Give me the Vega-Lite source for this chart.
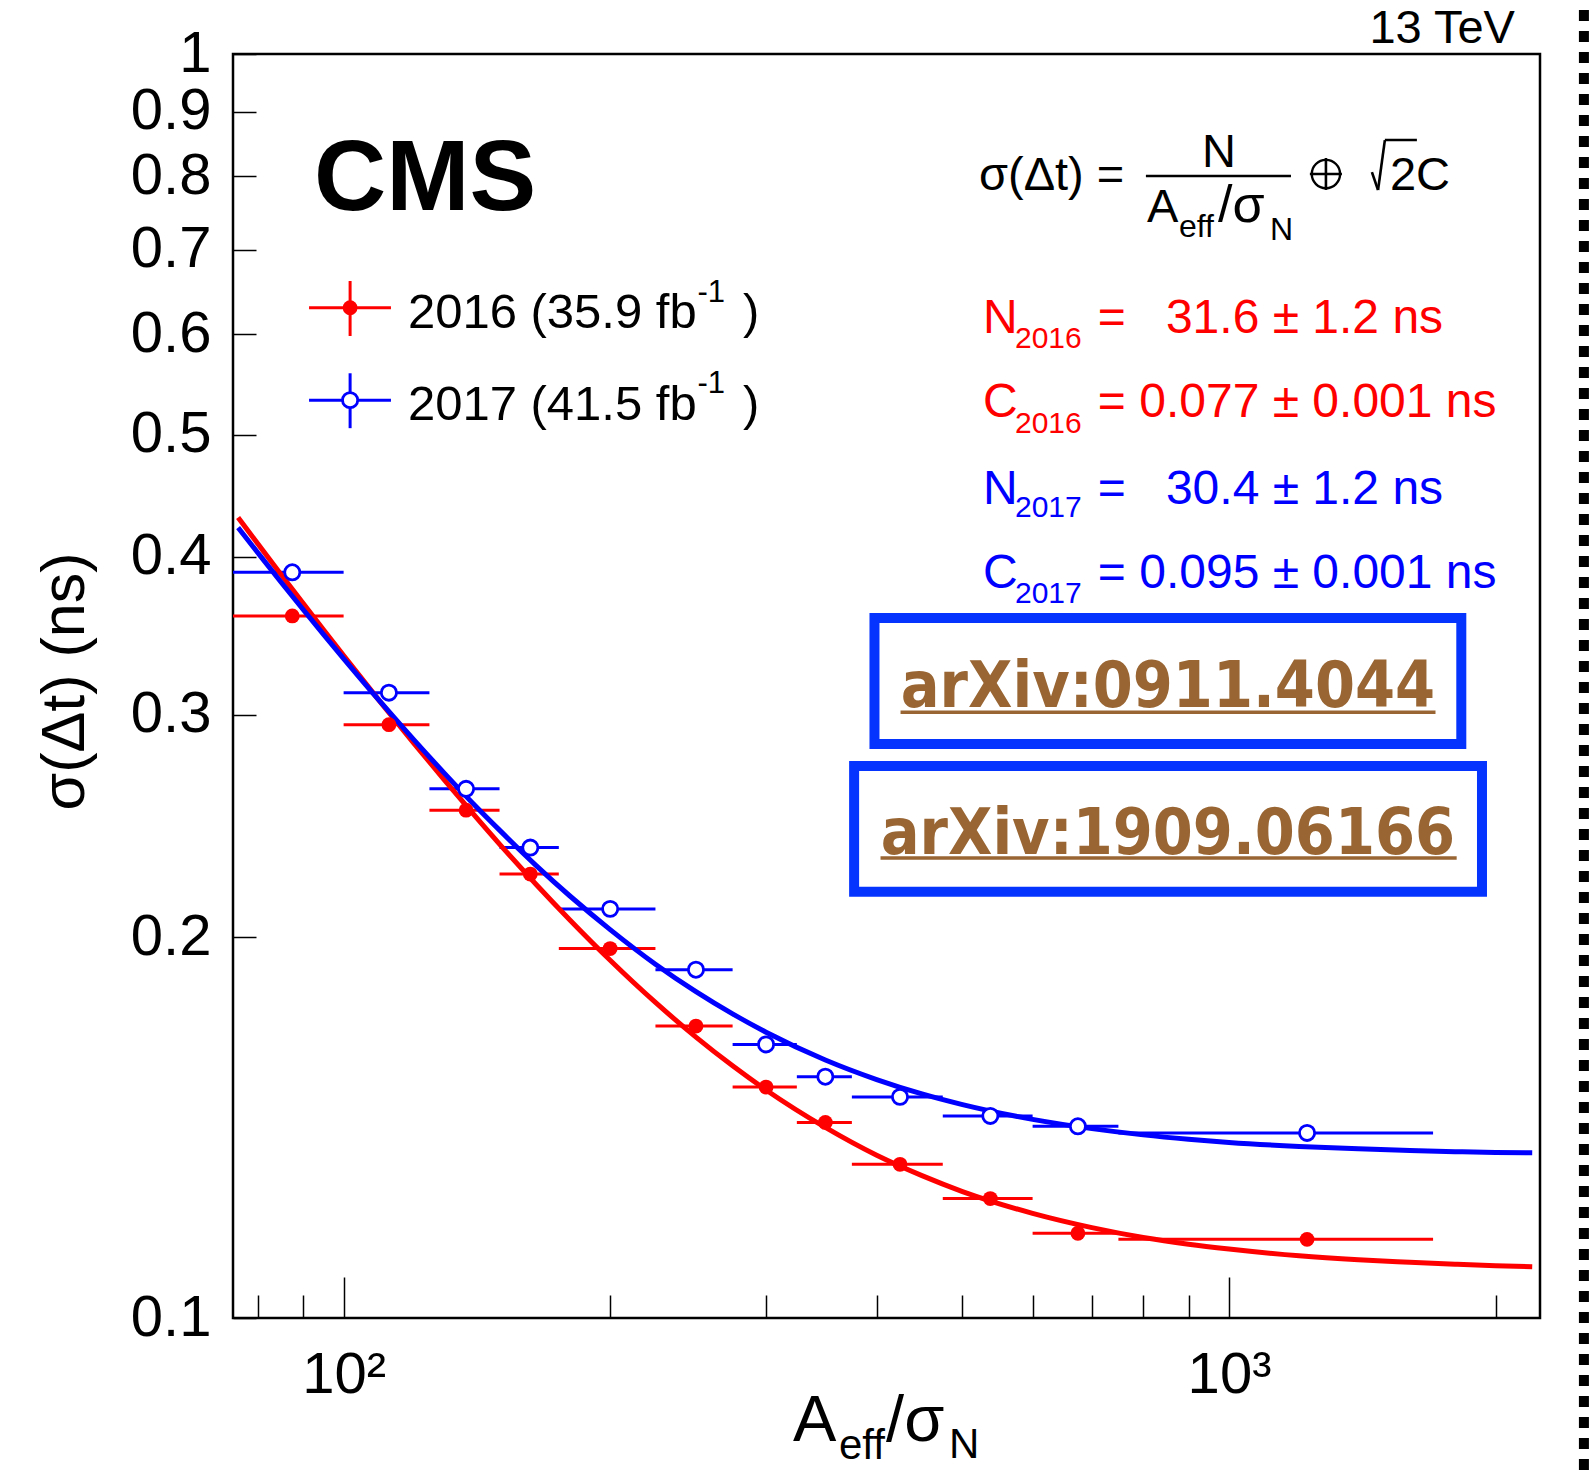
{
  "$schema": "https://vega.github.io/schema/vega-lite/v6.json",
  "width": 1307,
  "height": 1264,
  "autosize": {"type": "none"},
  "padding": {"left": 233, "top": 54, "right": 49, "bottom": 152},
  "background": "white",
  "config": {
    "view": {"stroke": "black", "strokeWidth": 2.5},
    "text": {"font": "Liberation Sans, Arial, Helvetica, sans-serif", "color": "black"}
  },
  "datasets": {
    "bins": [
      {"year": "2016", "x": 87.5, "lo": 75, "hi": 100, "y": 0.3593},
      {"year": "2016", "x": 112.5, "lo": 100, "hi": 125, "y": 0.2947},
      {"year": "2016", "x": 137.5, "lo": 125, "hi": 150, "y": 0.2522},
      {"year": "2016", "x": 162.5, "lo": 150, "hi": 175, "y": 0.2245},
      {"year": "2016", "x": 200, "lo": 175, "hi": 225, "y": 0.1960},
      {"year": "2016", "x": 250, "lo": 225, "hi": 275, "y": 0.1702},
      {"year": "2016", "x": 300, "lo": 275, "hi": 325, "y": 0.1523},
      {"year": "2016", "x": 350, "lo": 325, "hi": 375, "y": 0.1428},
      {"year": "2016", "x": 425, "lo": 375, "hi": 475, "y": 0.1323},
      {"year": "2016", "x": 537.5, "lo": 475, "hi": 600, "y": 0.1243},
      {"year": "2016", "x": 675, "lo": 600, "hi": 750, "y": 0.1167},
      {"year": "2016", "x": 1225, "lo": 750, "hi": 1700, "y": 0.1154},
      {"year": "2017", "x": 87.5, "lo": 75, "hi": 100, "y": 0.3890},
      {"year": "2017", "x": 112.5, "lo": 100, "hi": 125, "y": 0.3124},
      {"year": "2017", "x": 137.5, "lo": 125, "hi": 150, "y": 0.2622},
      {"year": "2017", "x": 162.5, "lo": 150, "hi": 175, "y": 0.2356},
      {"year": "2017", "x": 200, "lo": 175, "hi": 225, "y": 0.2107},
      {"year": "2017", "x": 250, "lo": 225, "hi": 275, "y": 0.1886},
      {"year": "2017", "x": 300, "lo": 275, "hi": 325, "y": 0.1646},
      {"year": "2017", "x": 350, "lo": 325, "hi": 375, "y": 0.1552},
      {"year": "2017", "x": 425, "lo": 375, "hi": 475, "y": 0.1496},
      {"year": "2017", "x": 537.5, "lo": 475, "hi": 600, "y": 0.1445},
      {"year": "2017", "x": 675, "lo": 600, "hi": 750, "y": 0.1418},
      {"year": "2017", "x": 1225, "lo": 750, "hi": 1700, "y": 0.1401}
    ],
    "fit": [
      {"year": "2016", "x": 76, "y": 0.4298},
      {"year": "2016", "x": 80, "y": 0.4097},
      {"year": "2016", "x": 85, "y": 0.3874},
      {"year": "2016", "x": 90, "y": 0.3676},
      {"year": "2016", "x": 95, "y": 0.3500},
      {"year": "2016", "x": 100, "y": 0.3342},
      {"year": "2016", "x": 110, "y": 0.3072},
      {"year": "2016", "x": 120, "y": 0.2850},
      {"year": "2016", "x": 130, "y": 0.2664},
      {"year": "2016", "x": 140, "y": 0.2506},
      {"year": "2016", "x": 150, "y": 0.2371},
      {"year": "2016", "x": 165, "y": 0.2203},
      {"year": "2016", "x": 180, "y": 0.2066},
      {"year": "2016", "x": 200, "y": 0.1919},
      {"year": "2016", "x": 225, "y": 0.1777},
      {"year": "2016", "x": 250, "y": 0.1668},
      {"year": "2016", "x": 275, "y": 0.1583},
      {"year": "2016", "x": 300, "y": 0.1515},
      {"year": "2016", "x": 350, "y": 0.1415},
      {"year": "2016", "x": 400, "y": 0.1345},
      {"year": "2016", "x": 450, "y": 0.1296},
      {"year": "2016", "x": 500, "y": 0.1259},
      {"year": "2016", "x": 600, "y": 0.1210},
      {"year": "2016", "x": 700, "y": 0.1179},
      {"year": "2016", "x": 800, "y": 0.1158},
      {"year": "2016", "x": 900, "y": 0.1144},
      {"year": "2016", "x": 1000, "y": 0.1134},
      {"year": "2016", "x": 1200, "y": 0.1120},
      {"year": "2016", "x": 1400, "y": 0.1112},
      {"year": "2016", "x": 1600, "y": 0.1107},
      {"year": "2016", "x": 1800, "y": 0.1103},
      {"year": "2016", "x": 2000, "y": 0.1100},
      {"year": "2016", "x": 2200, "y": 0.1098},
      {"year": "2017", "x": 76, "y": 0.4220},
      {"year": "2017", "x": 80, "y": 0.4031},
      {"year": "2017", "x": 85, "y": 0.3820},
      {"year": "2017", "x": 90, "y": 0.3635},
      {"year": "2017", "x": 95, "y": 0.3471},
      {"year": "2017", "x": 100, "y": 0.3324},
      {"year": "2017", "x": 110, "y": 0.3073},
      {"year": "2017", "x": 120, "y": 0.2868},
      {"year": "2017", "x": 130, "y": 0.2697},
      {"year": "2017", "x": 140, "y": 0.2553},
      {"year": "2017", "x": 150, "y": 0.2432},
      {"year": "2017", "x": 165, "y": 0.2280},
      {"year": "2017", "x": 180, "y": 0.2158},
      {"year": "2017", "x": 200, "y": 0.2029},
      {"year": "2017", "x": 225, "y": 0.1905},
      {"year": "2017", "x": 250, "y": 0.1812},
      {"year": "2017", "x": 275, "y": 0.1740},
      {"year": "2017", "x": 300, "y": 0.1683},
      {"year": "2017", "x": 350, "y": 0.1600},
      {"year": "2017", "x": 400, "y": 0.1544},
      {"year": "2017", "x": 450, "y": 0.1504},
      {"year": "2017", "x": 500, "y": 0.1475},
      {"year": "2017", "x": 600, "y": 0.1436},
      {"year": "2017", "x": 700, "y": 0.1412},
      {"year": "2017", "x": 800, "y": 0.1396},
      {"year": "2017", "x": 900, "y": 0.1385},
      {"year": "2017", "x": 1000, "y": 0.1377},
      {"year": "2017", "x": 1200, "y": 0.1367},
      {"year": "2017", "x": 1400, "y": 0.1361},
      {"year": "2017", "x": 1600, "y": 0.1357},
      {"year": "2017", "x": 1800, "y": 0.1354},
      {"year": "2017", "x": 2000, "y": 0.1352},
      {"year": "2017", "x": 2200, "y": 0.1351}
    ]
  },
  "encoding": {
    "x": {
      "field": "x", "type": "quantitative",
      "scale": {"type": "log", "domain": [75, 2245], "nice": false},
      "axis": {
        "title": null, "domain": false, "grid": false,
        "values": [80, 90, 100, 200, 300, 400, 500, 600, 700, 800, 900, 1000, 2000],
        "tickSize": {"condition": {"test": "datum.value == 100 || datum.value == 1000", "value": -41}, "value": -23},
        "tickColor": "black", "tickWidth": 1.5,
        "labelExpr": "datum.value == 100 ? '10²' : (datum.value == 1000 ? '10³' : '')",
        "labelFont": "Liberation Sans, Arial, sans-serif", "labelFontSize": 58, "labelColor": "black",
        "labelPadding": 69, "labelFlush": false, "labelOverlap": false, "labelBound": false
      }
    },
    "y": {
      "field": "y", "type": "quantitative",
      "scale": {"type": "log", "domain": [0.1, 1], "nice": false},
      "axis": {
        "title": "σ(Δt) (ns)", "domain": false, "grid": false,
        "values": [0.1, 0.2, 0.3, 0.4, 0.5, 0.6, 0.7, 0.8, 0.9, 1],
        "tickSize": -23, "tickColor": "black", "tickWidth": 1.5,
        "labelExpr": "datum.value == 1 ? '1' : format(datum.value, '.1f')",
        "labelFont": "Liberation Sans, Arial, sans-serif", "labelFontSize": 58, "labelColor": "black",
        "labelPadding": 45, "labelFlush": false, "labelOverlap": false, "labelBound": false,
        "titleFont": "Liberation Sans, Arial, sans-serif", "titleFontSize": 61, "titleFontWeight": "normal", "titleColor": "black",
        "titleX": -150, "titleY": 627, "titleAngle": 270, "titleAlign": "center", "titleBaseline": "alphabetic"
      }
    }
  },
  "layer": [
    {
      "data": {"name": "bins"},
      "mark": {"type": "rule", "strokeWidth": 3},
      "encoding": {
        "x": {"field": "lo", "type": "quantitative", "scale": {"type": "log", "domain": [75, 2245], "nice": false}},
        "x2": {"field": "hi"},
        "color": {"field": "year", "type": "nominal", "scale": {"domain": ["2016", "2017"], "range": ["#ff0000", "#0000ff"]}, "legend": null}
      }
    },
    {
      "data": {"name": "fit"},
      "mark": {"type": "line", "strokeWidth": 5, "interpolate": "monotone"},
      "encoding": {
        "color": {"field": "year", "type": "nominal", "scale": {"domain": ["2016", "2017"], "range": ["#ff0000", "#0000ff"]}, "legend": null}
      }
    },
    {
      "data": {"name": "bins"},
      "transform": [{"filter": "datum.year == '2016'"}],
      "mark": {"type": "point", "shape": "circle", "filled": true, "size": 220, "color": "#ff0000", "opacity": 1},
      "encoding": {}
    },
    {
      "data": {"name": "bins"},
      "transform": [{"filter": "datum.year == '2017'"}],
      "mark": {"type": "point", "shape": "circle", "filled": false, "fill": "white", "fillOpacity": 1, "size": 230, "stroke": "#0000ff", "strokeWidth": 2.8, "opacity": 1},
      "encoding": {}
    },
    {
      "data": {"values": [
        {"year": "2016", "x": 91.4, "x2": 113.1, "y": 0.6299},
        {"year": "2017", "x": 91.4, "x2": 113.1, "y": 0.5323}
      ]},
      "mark": {"type": "rule", "strokeWidth": 3},
      "encoding": {
        "x2": {"field": "x2"},
        "color": {"field": "year", "type": "nominal", "scale": {"domain": ["2016", "2017"], "range": ["#ff0000", "#0000ff"]}, "legend": null}
      }
    },
    {
      "data": {"values": [
        {"year": "2016", "x": 101.7, "y": 0.6613, "y2": 0.5983},
        {"year": "2017", "x": 101.7, "y": 0.5590, "y2": 0.5058}
      ]},
      "mark": {"type": "rule", "strokeWidth": 3},
      "encoding": {
        "y2": {"field": "y2"},
        "color": {"field": "year", "type": "nominal", "scale": {"domain": ["2016", "2017"], "range": ["#ff0000", "#0000ff"]}, "legend": null}
      }
    },
    {
      "data": {"values": [{"x": 101.7, "y": 0.6299}]},
      "mark": {"type": "point", "shape": "circle", "filled": true, "size": 220, "color": "#ff0000", "opacity": 1},
      "encoding": {}
    },
    {
      "data": {"values": [{"x": 101.7, "y": 0.5323}]},
      "mark": {"type": "point", "shape": "circle", "filled": false, "fill": "white", "fillOpacity": 1, "size": 230, "stroke": "#0000ff", "strokeWidth": 2.8, "opacity": 1},
      "encoding": {}
    },
    {
      "data": {"values": [{"x": 2103, "y": 1.0202, "t": "13 TeV"}]},
      "mark": {"type": "text", "align": "right", "baseline": "alphabetic", "fontSize": 47},
      "encoding": {"text": {"field": "t"}}
    },
    {
      "data": {"values": [{"x": 92.6, "y": 0.7524, "t": "CMS"}]},
      "mark": {"type": "text", "align": "left", "baseline": "alphabetic", "fontSize": 100, "fontWeight": "bold"},
      "encoding": {"text": {"field": "t"}}
    },
    {
      "data": {"values": [
        {"x": 118.2, "y": 0.6069, "t": "2016 (35.9 fb"},
        {"x": 118.2, "y": 0.5133, "t": "2017 (41.5 fb"},
        {"x": 282.5, "y": 0.6069, "t": ")"},
        {"x": 282.5, "y": 0.5133, "t": ")"}
      ]},
      "mark": {"type": "text", "align": "left", "baseline": "alphabetic", "fontSize": 49},
      "encoding": {"text": {"field": "t"}}
    },
    {
      "data": {"values": [
        {"x": 251, "y": 0.6364, "t": "-1"},
        {"x": 251, "y": 0.5392, "t": "-1"}
      ]},
      "mark": {"type": "text", "align": "left", "baseline": "alphabetic", "fontSize": 31},
      "encoding": {"text": {"field": "t"}}
    },
    {
      "data": {"values": [
        {"x": 521.9, "y": 0.7806, "t": "σ(Δt) ="},
        {"x": 807.8, "y": 0.7364, "t": "A"},
        {"x": 1519.5, "y": 0.7806, "t": "2C"}
      ]},
      "mark": {"type": "text", "align": "left", "baseline": "alphabetic", "fontSize": 47},
      "encoding": {"text": {"field": "t"}}
    },
    {
      "data": {"values": [{"x": 971.6, "y": 0.7364, "t": "/σ"}]},
      "mark": {"type": "text", "align": "left", "baseline": "alphabetic", "fontSize": 52},
      "encoding": {"text": {"field": "t"}}
    },
    {
      "data": {"values": [{"x": 974.1, "y": 0.8140, "t": "N"}]},
      "mark": {"type": "text", "align": "center", "baseline": "alphabetic", "fontSize": 47},
      "encoding": {"text": {"field": "t"}}
    },
    {
      "data": {"values": [
        {"x": 877.9, "y": 0.7165, "t": "eff"},
        {"x": 1112.3, "y": 0.7126, "t": "N"}
      ]},
      "mark": {"type": "text", "align": "left", "baseline": "alphabetic", "fontSize": 32},
      "encoding": {"text": {"field": "t"}}
    },
    {
      "data": {"values": [{"x": 1286.6, "y": 0.8036}]},
      "mark": {"type": "point", "shape": "circle", "filled": false, "size": 800, "stroke": "black", "strokeWidth": 2.4, "opacity": 1},
      "encoding": {}
    },
    {
      "data": {"values": [
        {"x": 805.6, "x2": 1174.8, "y": 0.8007, "y2": 0.8007},
        {"x": 1234, "x2": 1341.3, "y": 0.8036, "y2": 0.8036},
        {"x": 1286.6, "x2": 1286.6, "y": 0.8274, "y2": 0.7806},
        {"x": 1450, "x2": 1473.3, "y": 0.8065, "y2": 0.7806},
        {"x": 1473.3, "x2": 1499.7, "y": 0.7806, "y2": 0.8549},
        {"x": 1499.7, "x2": 1630, "y": 0.8549, "y2": 0.8549}
      ]},
      "mark": {"type": "rule", "strokeWidth": 2.6, "color": "black"},
      "encoding": {"x2": {"field": "x2"}, "y2": {"field": "y2"}}
    },
    {
      "data": {"values": [
        {"year": "2016", "x": 527.5, "y": 0.6016, "t": "N"},
        {"year": "2016", "x": 711.0, "y": 0.6016, "t": "="},
        {"year": "2016", "x": 848.6, "y": 0.6016, "t": "31.6 ± 1.2 ns"},
        {"year": "2016", "x": 527.5, "y": 0.5161, "t": "C"},
        {"year": "2016", "x": 711.0, "y": 0.5161, "t": "= 0.077 ± 0.001 ns"},
        {"year": "2017", "x": 527.5, "y": 0.4406, "t": "N"},
        {"year": "2017", "x": 711.0, "y": 0.4406, "t": "="},
        {"year": "2017", "x": 848.6, "y": 0.4406, "t": "30.4 ± 1.2 ns"},
        {"year": "2017", "x": 527.5, "y": 0.3781, "t": "C"},
        {"year": "2017", "x": 711.0, "y": 0.3781, "t": "= 0.095 ± 0.001 ns"}
      ]},
      "mark": {"type": "text", "align": "left", "baseline": "alphabetic", "fontSize": 48},
      "encoding": {
        "text": {"field": "t"},
        "color": {"field": "year", "type": "nominal", "scale": {"domain": ["2016", "2017"], "range": ["#ff0000", "#0000ff"]}, "legend": null}
      }
    },
    {
      "data": {"values": [
        {"year": "2016", "x": 573.1, "y": 0.5854, "t": "2016"},
        {"year": "2016", "x": 573.1, "y": 0.5013, "t": "2016"},
        {"year": "2017", "x": 573.1, "y": 0.4302, "t": "2017"},
        {"year": "2017", "x": 573.1, "y": 0.3678, "t": "2017"}
      ]},
      "mark": {"type": "text", "align": "left", "baseline": "alphabetic", "fontSize": 30},
      "encoding": {
        "text": {"field": "t"},
        "color": {"field": "year", "type": "nominal", "scale": {"domain": ["2016", "2017"], "range": ["#ff0000", "#0000ff"]}, "legend": null}
      }
    },
    {
      "data": {"values": [
        {"x": 397.7, "x2": 1829.5, "y": 0.3580, "y2": 0.2845},
        {"x": 377.2, "x2": 1930.6, "y": 0.2733, "y2": 0.2174}
      ]},
      "mark": {"type": "rect", "fill": "white", "stroke": "#0534ff", "strokeWidth": 10},
      "encoding": {"x2": {"field": "x2"}, "y2": {"field": "y2"}}
    },
    {
      "data": {"values": [
        {"x": 853.1, "y": 0.3043, "t": "arXiv:0911.4044"},
        {"x": 853.1, "y": 0.2329, "t": "arXiv:1909.06166"}
      ]},
      "mark": {"type": "text", "align": "center", "baseline": "alphabetic", "fontSize": 64, "fontWeight": "bold", "font": "DejaVu Sans Condensed, DejaVu Sans", "color": "#996633"},
      "encoding": {"text": {"field": "t"}}
    },
    {
      "data": {"values": [
        {"x": 425.6, "x2": 1710.8, "y": 0.3015},
        {"x": 404.0, "x2": 1807.6, "y": 0.2312}
      ]},
      "mark": {"type": "rule", "strokeWidth": 3.5, "color": "#996633"},
      "encoding": {"x2": {"field": "x2"}}
    },
    {
      "data": {"values": [
        {"x": 321.7, "y": 0.07991, "t": "A"},
        {"x": 409.9, "y": 0.07991, "t": "/σ"}
      ]},
      "mark": {"type": "text", "align": "left", "baseline": "alphabetic", "fontSize": 65},
      "encoding": {"text": {"field": "t"}}
    },
    {
      "data": {"values": [
        {"x": 362.6, "y": 0.07733, "t": "eff"},
        {"x": 482.8, "y": 0.07747, "t": "N"}
      ]},
      "mark": {"type": "text", "align": "left", "baseline": "alphabetic", "fontSize": 42},
      "encoding": {"text": {"field": "t"}}
    },
    {
      "data": {"values": [{"x": 2516.6, "y": 0.0758, "y2": 1.1033}]},
      "mark": {"type": "rule", "strokeWidth": 10, "strokeDash": [11, 10], "color": "black", "strokeCap": "butt"},
      "encoding": {"y2": {"field": "y2"}}
    }
  ]
}
